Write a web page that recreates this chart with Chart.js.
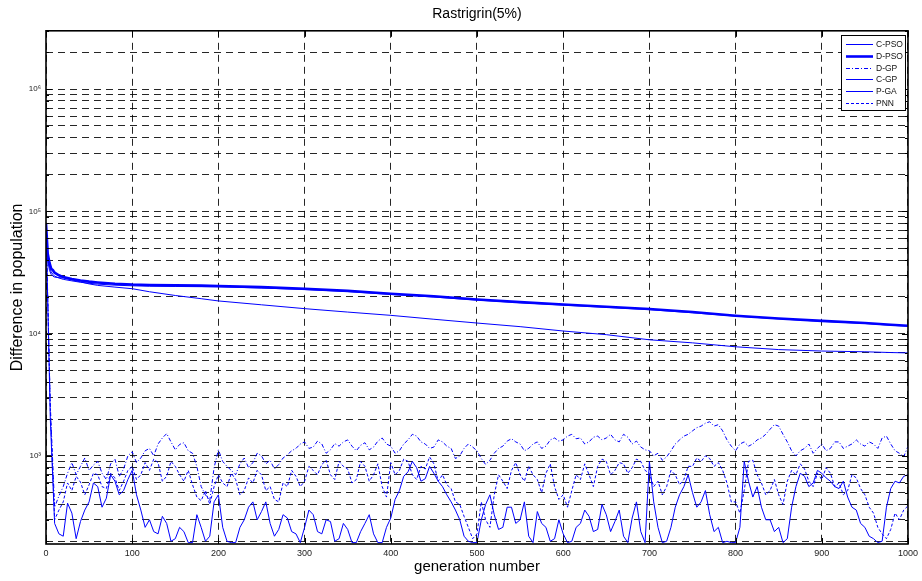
<!DOCTYPE html>
<html>
<head>
<meta charset="utf-8">
<title>Rastrigrin(5%)</title>
<script src="https://cdn.jsdelivr.net/npm/chart.js@4.4.0/dist/chart.umd.min.js"></script>
<style>
  html, body { margin: 0; padding: 0; background: #fff; }
</style>
</head>
<body>
<canvas id="chart" width="922" height="581"></canvas>
<script>
// ─────────────────────────────────────────────────
// Data
// ─────────────────────────────────────────────────
const seriesNames = ['C-PSO', 'D-PSO', 'D-GP', 'C-GP', 'P-GA', 'PNN'];

// smooth curves
const smoothGens = [0, 2, 4, 6, 8, 10, 15, 20, 30, 40, 50, 60, 80, 100, 120, 150, 180, 200, 250, 300,
    350, 400, 450, 500, 550, 600, 650, 700, 750, 800, 850, 900, 950, 980, 1000];
const dPso = [80000, 45000, 38000, 34000, 33000, 31500, 30000, 29000, 28000, 27200, 26600, 26200, 25600, 25200, 25000, 24800, 24700, 24500, 24000, 23300,
    22400, 21200, 20200, 19000, 18100, 17300, 16600, 15900, 15000, 14000, 13300, 12700, 12200, 11800, 11600];
const cPso = [80000, 42000, 35000, 32000, 30500, 29500, 28500, 27800, 27000, 26300, 25800, 25400, 24900, 24600, 24400, 24300, 24200, 24100, 23600, 22900,
    22000, 20900, 19900, 18800, 17900, 17100, 16400, 15700, 14800, 13900, 13200, 12600, 12100, 11700, 11500];
const cGp = [80000, 40000, 33000, 30500, 29500, 29000, 28700, 28500, 27500, 26500, 25500, 24800, 24000, 23300, 22000, 20500, 19300, 18500, 17200, 16000,
    15000, 14100, 13100, 12200, 11400, 10500, 9800, 8900, 8400, 7800, 7400, 7200, 7100, 7000, 6950];

// noisy curves, every 5 generations (one row = 50 generations)
const noisyGens = [
    0, 5, 10, 15, 20, 25, 30, 35, 40, 45, 50, 55, 60, 65, 70, 75, 80, 85, 90, 95,
    100, 105, 110, 115, 120, 125, 130, 135, 140, 145, 150, 155, 160, 165, 170, 175, 180, 185, 190, 195,
    200, 205, 210, 215, 220, 225, 230, 235, 240, 245, 250, 255, 260, 265, 270, 275, 280, 285, 290, 295,
    300, 305, 310, 315, 320, 325, 330, 335, 340, 345, 350, 355, 360, 365, 370, 375, 380, 385, 390, 395,
    400, 405, 410, 415, 420, 425, 430, 435, 440, 445, 450, 455, 460, 465, 470, 475, 480, 485, 490, 495,
    500, 505, 510, 515, 520, 525, 530, 535, 540, 545, 550, 555, 560, 565, 570, 575, 580, 585, 590, 595,
    600, 605, 610, 615, 620, 625, 630, 635, 640, 645, 650, 655, 660, 665, 670, 675, 680, 685, 690, 695,
    700, 705, 710, 715, 720, 725, 730, 735, 740, 745, 750, 755, 760, 765, 770, 775, 780, 785, 790, 795,
    800, 805, 810, 815, 820, 825, 830, 835, 840, 845, 850, 855, 860, 865, 870, 875, 880, 885, 890, 895,
    900, 905, 910, 915, 920, 925, 930, 935, 940, 945, 950, 955, 960, 965, 970, 975, 980, 985, 990, 995, 1000];
const dGp = [
    80000, 2600, 380, 470, 560, 720, 880, 700, 820, 960,
    760, 840, 900, 720, 640, 860, 940, 680, 780, 1000,
    1080, 880, 960, 1100, 1150, 1000, 1250, 1400, 1520, 1300,
    1120, 1240, 1280, 1100, 1050, 820, 560, 480, 430, 800,
    1120, 900, 820, 760, 700, 860, 960, 800, 880, 1050,
    1000, 860, 920, 780, 850, 960, 1020, 1100, 1150, 1250,
    1300, 1150, 1180, 1320, 1250, 1050, 1120, 1260, 1200, 1300,
    1350, 1200, 1100, 1220, 1280, 1120, 1180, 1320, 1400, 1250,
    1200, 1050, 1100, 1250, 1350, 1500, 1450, 1300, 1250, 1150,
    1180, 1350, 1300, 1200, 1150, 950, 1000, 1150, 1250, 1180,
    1100, 950, 850, 920, 1050, 1150, 1200, 1320, 1380, 1300,
    1250, 1100, 1150, 1250, 1300, 1150, 1200, 1350, 1400, 1320,
    1350, 1450, 1500, 1380, 1400, 1250, 1300, 1420, 1450, 1350,
    1400, 1500, 1350, 1300, 1500, 1420, 1250, 1320, 1180, 1120,
    1100, 1000, 1050, 920, 980, 1100, 1250, 1350, 1450, 1500,
    1600, 1700, 1750, 1850, 1900, 1750, 1800, 1600, 1350, 1200,
    1100, 1250, 1300, 1200, 1250, 1350, 1400, 1500, 1650, 1800,
    1750, 1500, 1300, 1100, 1000, 1100, 1150, 1250, 1050, 1150,
    1250, 1100, 1150, 1300, 1300, 1150, 1200, 1250, 1350, 1250,
    1200, 1300, 1250, 1150, 1400, 1450, 1250, 1100, 1050, 980,
    1200];
const pGa = [
    80000, 2000, 280, 230, 220, 410, 340, 210, 290, 360,
    420, 600, 560, 380, 450, 700, 620, 480, 520, 640,
    760, 480, 360, 260, 300, 240, 230, 320, 280, 200,
    210, 260, 240, 195, 195, 330, 260, 200, 220, 420,
    480, 260, 200, 195, 195, 260, 300, 380, 420, 300,
    350, 420, 280, 220, 250, 330, 310, 240, 230, 195,
    260, 360, 330, 240, 230, 300, 290, 200, 210, 280,
    250, 195, 195, 240, 280, 330, 230, 195, 195, 260,
    310, 440, 520, 680, 740, 900, 800, 620, 650, 820,
    720, 620, 560, 480, 420, 360, 300, 220, 200, 195,
    195, 300, 400, 480, 330, 250, 260, 380, 380, 280,
    300, 420, 220, 195, 350, 280, 260, 200, 210, 300,
    230, 195, 200, 260, 280, 360, 320, 240, 250, 400,
    330, 240, 290, 360, 220, 195, 310, 420, 240, 195,
    900, 420, 260, 195, 200, 260, 380, 480, 560, 700,
    500, 380, 420, 520, 330, 240, 260, 195, 200, 195,
    195, 260, 900, 620, 460, 560, 380, 300, 300, 240,
    260, 195, 210, 380, 560, 720, 680, 560, 600, 760,
    720, 660, 620, 560, 540, 620, 460, 380, 360, 280,
    260, 220, 210, 195, 200, 380, 540, 620, 600, 680,
    700];
const pnn = [
    80000, 2400, 300, 360, 420, 600, 520, 680, 610, 480,
    580, 720, 700, 560, 540, 720, 660, 520, 620, 760,
    820, 640, 700, 880, 760, 940, 880, 620, 680, 900,
    820, 700, 620, 760, 580, 460, 430, 520, 400, 560,
    700, 600, 560, 720, 640, 480, 520, 660, 600, 760,
    700, 520, 560, 440, 420, 600, 560, 760, 680, 560,
    620, 820, 760, 700, 850, 920, 700, 640, 900, 820,
    780, 600, 640, 900, 820, 620, 700, 860, 560, 460,
    880, 700, 760, 940, 900, 700, 640, 820, 780, 980,
    860, 620, 700, 580, 540, 420, 400, 320, 260, 210,
    230, 420, 300, 260, 480, 700, 620, 540, 760, 880,
    700, 620, 820, 700, 640, 500, 720, 860, 560, 440,
    480, 380, 520, 700, 640, 860, 700, 560, 820, 940,
    900, 700, 760, 880, 860, 720, 800, 940, 900, 760,
    720, 560, 620, 480, 560, 760, 700, 580, 640, 820,
    820, 960, 900, 1000, 950, 820, 880, 760, 600, 420,
    420, 340, 520, 900, 920, 700, 600, 480, 520, 640,
    480, 400, 620, 760, 700, 860, 780, 620, 560, 720,
    640, 800, 720, 560, 600, 480, 520, 700, 660, 540,
    480, 380, 340, 260, 230, 210, 250, 340, 300, 360,
    390];

// axes
const xTicks = [0, 100, 200, 300, 400, 500, 600, 700, 800, 900, 1000];
const yGridTicks = [200, 300, 400, 500, 600, 700, 800, 900,
    1000, 2000, 3000, 4000, 5000, 6000, 7000, 8000, 9000,
    10000, 20000, 30000, 40000, 50000, 60000, 70000, 80000, 90000,
    100000, 200000, 300000, 400000, 500000, 600000, 700000, 800000, 900000,
    1000000, 2000000, 3000000];
const yDecades = [1000, 10000, 100000, 1000000];
const yDecadeLabels = ['10³', '10⁴', '10⁵', '10⁶'];

// ─────────────────────────────────────────────────
// Helpers
// ─────────────────────────────────────────────────
const BLUE = '#0000ff';
const NARROW = '"Liberation Sans Narrow", "Liberation Sans", Arial, sans-serif';
const pts = (gens, vals) => gens.map((g, i) => ({ x: g, y: vals[i] }));

function line(label, gens, vals, width, dash) {
    return {
        label, data: pts(gens, vals),
        borderColor: BLUE, backgroundColor: BLUE,
        borderWidth: width, borderDash: dash,
        pointRadius: 0, tension: 0, fill: false
    };
}

// MATLAB-style box, inward ticks and legend
const matlabFrame = {
    id: 'matlabFrame',
    afterDraw(chart) {
        const { ctx, chartArea: a, scales: { x, y } } = chart;
        ctx.save();
        ctx.strokeStyle = '#000';
        ctx.lineWidth = 1;
        ctx.setLineDash([]);
        ctx.beginPath();
        yGridTicks.forEach(v => {
            const py = Math.round(y.getPixelForValue(v)) + 0.5;
            const len = yDecades.includes(v) ? 6 : 3;
            ctx.moveTo(a.left, py); ctx.lineTo(a.left + len, py);
            ctx.moveTo(a.right, py); ctx.lineTo(a.right - len, py);
        });
        xTicks.forEach(v => {
            const px = Math.round(x.getPixelForValue(v)) + 0.5;
            ctx.moveTo(px, a.bottom); ctx.lineTo(px, a.bottom - 6);
            ctx.moveTo(px, a.top); ctx.lineTo(px, a.top + 6);
        });
        ctx.stroke();
        ctx.lineWidth = 1.6;
        ctx.strokeRect(a.left, a.top, a.right - a.left, a.bottom - a.top);

        // legend
        const bx = 841, by = 35, bw = a.right - 3 - bx, bh = 75;
        ctx.fillStyle = '#fff';
        ctx.fillRect(bx, by, bw, bh);
        ctx.strokeStyle = '#000';
        ctx.lineWidth = 1;
        ctx.strokeRect(bx + 0.5, by + 0.5, bw, bh);
        ctx.font = '8.5px ' + NARROW;
        ctx.textBaseline = 'middle';
        ctx.textAlign = 'left';
        chart.data.datasets.forEach((ds, i) => {
            const ry = Math.round(by + 9 + i * 11.8) + 0.5;
            ctx.strokeStyle = BLUE;
            ctx.lineWidth = ds.borderWidth;
            ctx.setLineDash(ds.borderDash || []);
            ctx.beginPath();
            ctx.moveTo(bx + 5, ry); ctx.lineTo(bx + 32, ry);
            ctx.stroke();
            ctx.setLineDash([]);
            ctx.fillStyle = '#111';
            ctx.fillText(ds.label, bx + 35, ry);
        });
        ctx.restore();
    }
};

// ─────────────────────────────────────────────────
// Chart
// ─────────────────────────────────────────────────
const ctx = document.getElementById('chart').getContext('2d');
new Chart(ctx, {
    type: 'line',
    data: {
        datasets: [
            line(seriesNames[0], smoothGens, cPso, 1, []),
            line(seriesNames[1], smoothGens, dPso, 2.6, []),
            line(seriesNames[2], noisyGens, dGp, 1, [4, 2, 1, 2]),
            line(seriesNames[3], smoothGens, cGp, 1, []),
            line(seriesNames[4], noisyGens, pGa, 1, []),
            line(seriesNames[5], noisyGens, pnn, 1, [3, 2])
        ]
    },
    options: {
        responsive: false, animation: false,
        layout: { padding: { left: 0, right: 10, top: 0, bottom: 0 } },
        plugins: {
            legend: { display: false },
            tooltip: { enabled: false },
            title: {
                display: true, text: 'Rastrigrin(5%)', fullSize: false,
                color: '#000', font: { size: 14, weight: 'normal', family: '"Liberation Sans", Arial, sans-serif' },
                padding: { top: 6, bottom: 8 }
            }
        },
        scales: {
            x: {
                type: 'linear', min: 0, max: 1000,
                afterBuildTicks: (s) => { s.ticks = xTicks.map(v => ({ value: v })); },
                afterFit: (s) => { s.height = 37; },
                grid: { color: 'rgba(0,0,0,0.85)', lineWidth: 1, drawTicks: false },
                border: { display: false, dash: [7, 5] },
                ticks: {
                    color: '#222', padding: 4, maxRotation: 0, autoSkip: false, font: { size: 9, family: NARROW },
                    callback: (v) => String(v)
                },
                title: {
                    display: true, text: 'generation number', color: '#000',
                    font: { size: 15, family: '"Liberation Sans", Arial, sans-serif' },
                    padding: { top: 0, bottom: 5 }
                }
            },
            y: {
                type: 'logarithmic', min: 190, max: 3000000,
                afterBuildTicks: (s) => { s.ticks = yGridTicks.map(v => ({ value: v, major: yDecades.includes(v) })); },
                afterFit: (s) => { s.width = 46; },
                grid: { color: 'rgba(0,0,0,0.85)', lineWidth: 1, drawTicks: false },
                border: { display: false, dash: [7, 5] },
                ticks: {
                    color: '#222', padding: 5, autoSkip: false, font: { size: 8, family: NARROW },
                    callback: (v) => { const k = yDecades.indexOf(v); return k >= 0 ? yDecadeLabels[k] : ''; }
                },
                title: {
                    display: true, text: 'Difference in population', color: '#000',
                    font: { size: 16, family: '"Liberation Sans", Arial, sans-serif' },
                    padding: { top: 8 }
                }
            }
        }
    },
    plugins: [matlabFrame]
});
</script>
</body>
</html>
